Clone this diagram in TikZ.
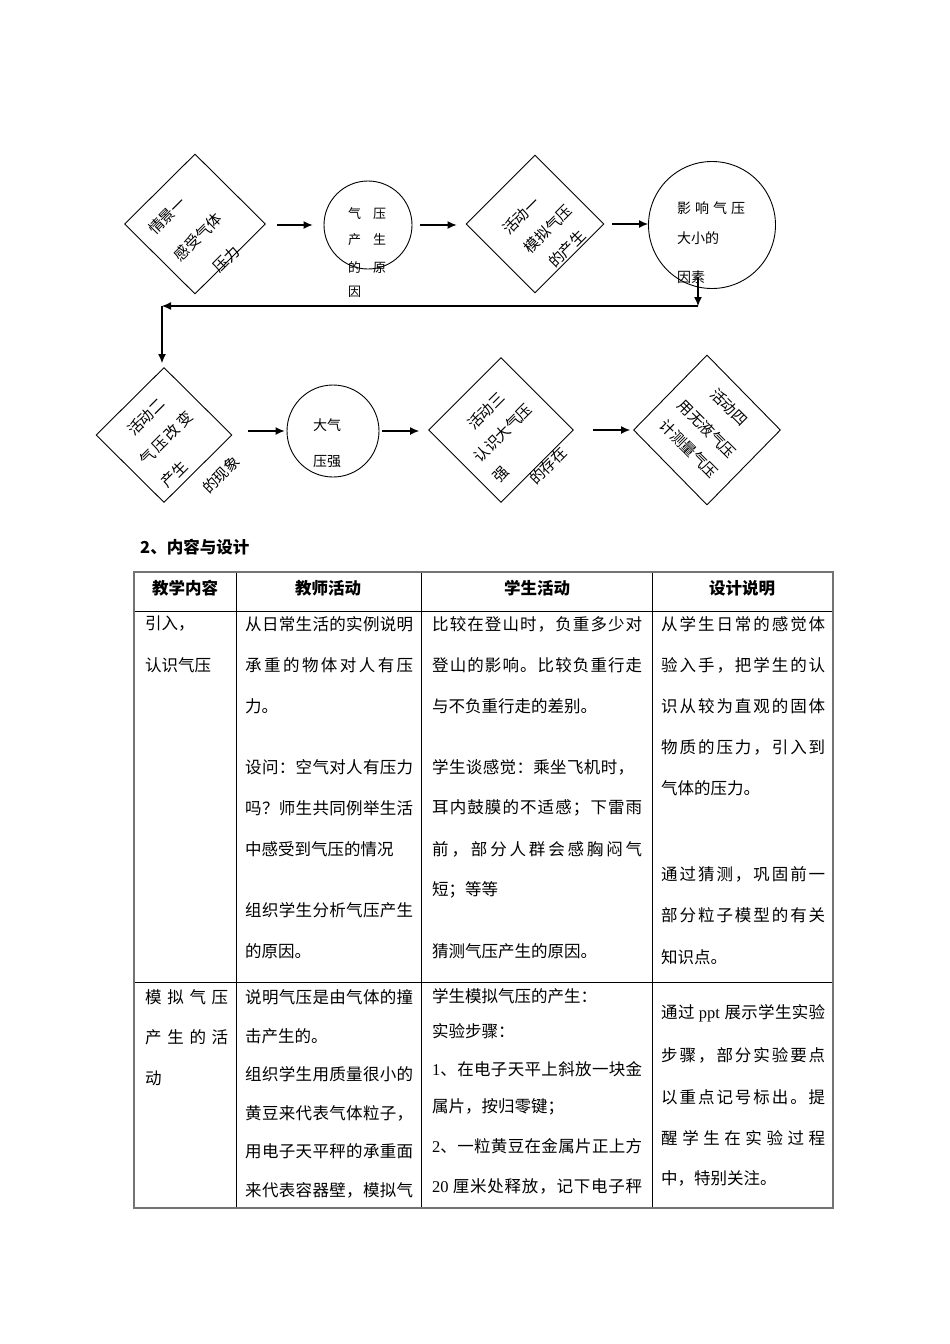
\documentclass[tikz,border=0pt]{standalone}
\usepackage{fontspec}
\setmainfont{Liberation Serif}
\newfontfamily\cjk{Noto Sans CJK SC}
\usetikzlibrary{arrows.meta,shapes.geometric,calc}
\makeatletter
\def\jl@a#1#2\jl@end{#1\if\relax\detokenize{#2}\relax\else\hfill\jl@a#2\jl@end\fi}
\newcommand\jl[2]{\hbox to #1{\jl@a#2\jl@end}}
\makeatother
\newcounter{tn}
\newcommand\T[3]{\stepcounter{tn}\node[tx] (t\the\value{tn}) at (#1,#2) {#3};}
\newcommand\J[4]{\stepcounter{tn}\node[tx] (t\the\value{tn}) at (#1,#2) {\jl{#3}{#4}};}
\begin{document}
\begin{tikzpicture}[x=1pt,y=-1pt,
  tx/.style={font={\cjk\fontsize{16.5}{20}\selectfont}, inner sep=0pt, anchor=west},
  hd/.style={font={\cjk\bfseries\fontsize{16.5}{20}\selectfont}, inner sep=0pt},
  fc/.style={font={\cjk\fontsize{14}{16}\selectfont}, inner sep=0pt},
  fd/.style={font={\cjk\fontsize{15}{17}\selectfont}, inner sep=0pt},
  fs/.style={font={\cjk\fontsize{13}{15}\selectfont}, inner sep=0pt, anchor=west},
  dia/.style={draw, diamond, inner sep=0pt, line width=0.9pt},
  circ/.style={draw, circle, inner sep=0pt, line width=0.9pt},
  arr/.style={line width=1.1pt, -{Latex[length=9pt,width=8pt]}},
  tbo/.style={draw=black!55, line width=1.6pt},
  tbi/.style={draw=black, line width=0.8pt}]
\useasboundingbox (0,0) rectangle (950,1344);
\fill[white] (0,0) rectangle (950,1344);

% ---------- flowchart row 1 ----------
\node[dia, minimum width=141pt, minimum height=140pt] (d1) at (195,224) {};
\node[circ, minimum size=88pt] (c1) at (368,225) {};
\node[dia, minimum width=138pt, minimum height=138pt] (d2) at (535,224) {};
\node[circ, minimum size=127pt] (c2) at (712,225) {};

\node[fd, rotate=45] (d1a) at (167,216) {情景一};
\node[fd, rotate=45] (d1b) at (198,237) {感受气体};
\node[fd, rotate=45] (d1c) at (226,259) {压力};

\node[fs] (c1a) at (348,214) {气\hspace{12pt}压};
\node[fs] (c1b) at (348,240) {产\hspace{12pt}生};
\node[fs] (c1c) at (348,268) {的\hspace{12pt}原};
\node[fs] (c1d) at (348,292) {因};

\node[fd, rotate=45] (d2a) at (521,216) {活动一};
\node[fd, rotate=45] (d2b) at (548,229) {模拟气压};
\node[fd, rotate=45] (d2c) at (567,249) {的产生};

\node[fc, anchor=west] (c2a) at (677,208) {\jl{68pt}{影响气压}};
\node[fc, anchor=west] (c2b) at (677,238) {大小的};
\node[fc, anchor=west] (c2c) at (677,277) {因素};

\draw[arr, shorten <=11.5pt, shorten >=11pt] (d1.east |- c1.west) -- (c1.west);
\draw[arr, shorten <=8pt, shorten >=9pt] (c1.east) -- (c1.east -| d2.west);
\draw[arr, shorten <=8pt, shorten >=0pt] (d2.east) -- (d2.east -| c2.west);

\coordinate (k0) at (698,277);
\coordinate (k1) at (698,306);
\coordinate (k2) at (162,306);
\draw[arr] (k0) -- (k1);
\draw[arr] (k1) -- (k2);

% ---------- flowchart row 2 ----------
\node[dia, minimum width=136pt, minimum height=135pt] (d3) at (164,435) {};
\node[circ, minimum size=92pt] (c3) at (333,431) {};
\node[dia, minimum width=145pt, minimum height=145pt] (d4) at (501,430) {};
\node[dia, minimum width=147pt, minimum height=150pt] (d5) at (707,430) {};

\draw[arr, shorten >=4pt] (k2) -- (k2 |- d3.north);

\node[fd, rotate=45] (d3a) at (146,417) {活动二};
\node[fd, rotate=45] (d3b) at (166,438) {\jl{68pt}{气压改变}};
\node[fd, rotate=45] (d3c) at (174,474) {产生};
\node[fd, rotate=45] (d3d) at (221,475) {的现象};

\node[fc] (c3a) at (327,425) {大气};
\node[fc] (c3b) at (327,462) {压强};

\node[fd, rotate=45] (d4a) at (486,411) {活动三};
\node[fd, rotate=45] (d4b) at (503,433) {认识大气压};
\node[fd, rotate=45] (d4c) at (501,474) {强};
\node[fd, rotate=45] (d4d) at (548,466) {的存在};

\node[fd, rotate=-45] (d5a) at (729,407) {活动四};
\node[fd, rotate=-45] (d5b) at (707,429) {用无液气压};
\node[fd, rotate=-45] (d5c) at (689,449) {计测量气压};

\draw[arr, shorten <=16pt, shorten >=2pt] (d3.east |- c3.west) -- (c3.west);
\draw[arr, shorten <=3pt, shorten >=9pt] (c3.east) -- (c3.east -| d4.west);
\draw[arr, shorten <=19pt, shorten >=3pt] (d4.east) -- (d4.east -| d5.west);

% ---------- section title ----------
\node[hd, anchor=west] (title) at (140,547) {2、内容与设计};

% ---------- table ----------
\draw[tbi] (236,572) -- (236,1208);
\draw[tbi] (421,572) -- (421,1208);
\draw[tbi] (652,572) -- (652,1208);
\draw[tbi] (134,611) -- (833,611);
\draw[tbi] (134,982) -- (833,982);
\draw[tbo] (134,572) rectangle (833,1208);

\node[hd] (h1) at (185,588) {教学内容};
\node[hd] (h2) at (328,588) {教师活动};
\node[hd] (h3) at (537,588) {学生活动};
\node[hd] (h4) at (742,588) {设计说明};

% row 1
\T{145}{624}{引入，}
\T{145}{665}{认识气压}

\J{245}{624}{168pt}{从日常生活的实例说明}
\J{245}{665}{168pt}{承重的物体对人有压}
\T{245}{706}{力。}
\J{245}{767}{168pt}{设问：空气对人有压力}
\J{245}{808}{168pt}{吗？师生共同例举生活}
\T{245}{849}{中感受到气压的情况}
\J{245}{910}{168pt}{组织学生分析气压产生}
\T{245}{951}{的原因。}

\J{432}{624}{210pt}{比较在登山时，负重多少对}
\J{432}{665}{210pt}{登山的影响。比较负重行走}
\T{432}{706}{与不负重行走的差别。}
\J{432}{767}{202pt}{学生谈感觉：乘坐飞机时，}
\J{432}{808}{210pt}{耳内鼓膜的不适感；下雷雨}
\J{432}{849}{210pt}{前，部分人群会感胸闷气}
\T{432}{890}{短；等等}
\T{432}{951}{猜测气压产生的原因。}

\J{661}{624}{164pt}{从学生日常的感觉体}
\J{661}{665}{164pt}{验入手，把学生的认}
\J{661}{706}{164pt}{识从较为直观的固体}
\J{661}{747}{164pt}{物质的压力，引入到}
\T{661}{788}{气体的压力。}
\J{661}{874}{164pt}{通过猜测，巩固前一}
\J{661}{915}{164pt}{部分粒子模型的有关}
\T{661}{957}{知识点。}

% row 2
\J{145}{997}{83pt}{模拟气压}
\J{145}{1037}{83pt}{产生的活}
\T{145}{1078}{动}

\J{245}{997}{168pt}{说明气压是由气体的撞}
\T{245}{1036}{击产生的。}
\J{245}{1074}{168pt}{组织学生用质量很小的}
\J{245}{1113}{168pt}{黄豆来代表气体粒子，}
\J{245}{1151}{168pt}{用电子天平秤的承重面}
\J{245}{1190}{168pt}{来代表容器壁，模拟气}

\T{432}{996}{学生模拟气压的产生：}
\T{432}{1031}{实验步骤：}
\J{432}{1069}{210pt}{{{\rmfamily 1}、}在电子天平上斜放一块金}
\T{432}{1107}{属片，按归零键；}
\J{432}{1146}{210pt}{{{\rmfamily 2}、}一粒黄豆在金属片正上方}
\J{432}{1186}{210pt}{{{\rmfamily 20\ }厘}米处释放，记下电子秤}

\J{661}{1013}{164pt}{通过{{\rmfamily\ ppt\ }}展示学生实验}
\J{661}{1055}{164pt}{步骤，部分实验要点}
\J{661}{1097}{164pt}{以重点记号标出。提}
\J{661}{1138}{164pt}{醒学生在实验过程}
\T{661}{1178}{中，特别关注。}
\end{tikzpicture}
\end{document}
